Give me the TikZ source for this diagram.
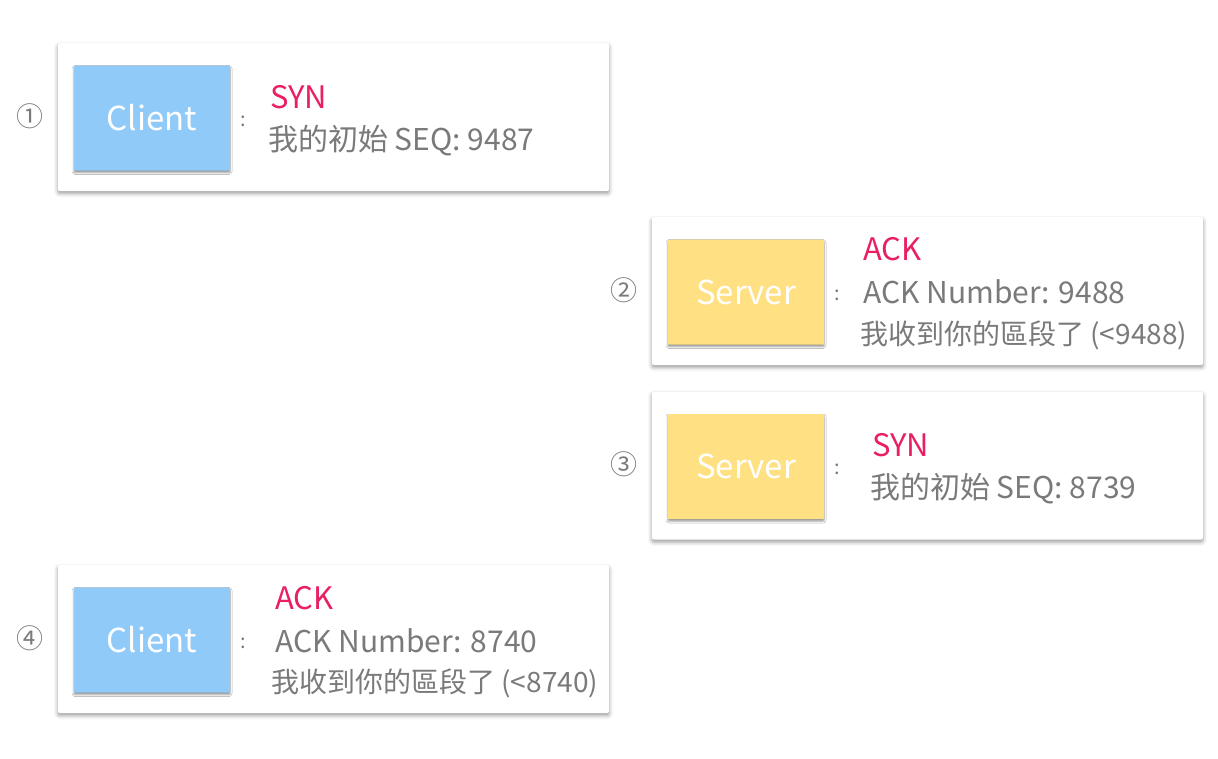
\documentclass[tikz,border=0pt]{standalone}
\usepackage{fontspec}
\setmainfont{Noto Sans CJK TC}
\usetikzlibrary{shadows.blur}
\definecolor{cliBlue}{HTML}{90CAF9}
\definecolor{srvYellow}{HTML}{FFE082}
\definecolor{flagPink}{HTML}{E91E63}
\definecolor{txtGray}{HTML}{7A7A7A}

\begin{document}
\begin{tikzpicture}[x=1pt,y=-1pt,
	card/.style={rectangle, rounded corners=2pt, fill=white, minimum width=551pt, minimum height=148pt,
		blur shadow={shadow xshift=0pt, shadow yshift=-2.5pt, shadow blur radius=4pt, shadow opacity=40}},
	party/.style={rectangle, rounded corners=1pt, inner sep=0pt, minimum width=156pt, minimum height=105pt,
		text=white, font=\fontsize{33}{33}\selectfont,
		blur shadow={shadow xshift=0pt, shadow yshift=-2pt, shadow blur radius=2pt, shadow opacity=45}},
	head/.style={anchor=base west, inner sep=0pt, text=flagPink, font=\fontsize{31}{31}\selectfont},
	body/.style={anchor=base west, inner sep=0pt, text=txtGray, font=\fontsize{30}{30}\selectfont},
	note/.style={anchor=base west, inner sep=0pt, text=txtGray, font=\fontsize{28}{28}\selectfont}]
	\useasboundingbox (0,0) rectangle (1218,758);
	% cards with the party box, step number and colon
	\foreach \x/\y/\i/\num/\who/\col in {
		333.5/117/1/①/Client/cliBlue,
		927.5/291/2/②/Server/srvYellow,
		927.5/465.5/3/③/Server/srvYellow,
		333.5/639/4/④/Client/cliBlue%
	}{
		\node[card] (step\i) at (\x,\y) {};
		\node[party, fill=\col, anchor=west] (who\i) at ([xshift=16pt,yshift=-1pt]step\i.west) {\who};
		\node[text=txtGray, font=\fontsize{27}{27}\selectfont, inner sep=0pt] (num\i) at ([xshift=-28pt,yshift=1pt]step\i.west) {\num};
		\node[text=txtGray, font=\fontsize{20}{20}\selectfont, inner sep=0pt] (colon\i) at ([xshift=185pt,yshift=-4pt]step\i.west) {:};
	}
	% message lines
	\foreach \x/\y/\nm/\sty/\txt in {
		270/108/m11/head/SYN,
		268/150/m12/body/我的初始 SEQ: 9487,
		863/260/m21/head/ACK,
		863/303/m22/body/ACK Number: 9488,
		860/344/m23/note/我收到你的區段了 (<9488),
		872/456/m31/head/SYN,
		870/498/m32/body/我的初始 SEQ: 8739,
		275/609/m41/head/ACK,
		275/652/m42/body/ACK Number: 8740,
		271/692/m43/note/我收到你的區段了 (<8740)%
	}{
		\node[\sty] (\nm) at (\x,\y) {\txt};
	}
\end{tikzpicture}
\end{document}
